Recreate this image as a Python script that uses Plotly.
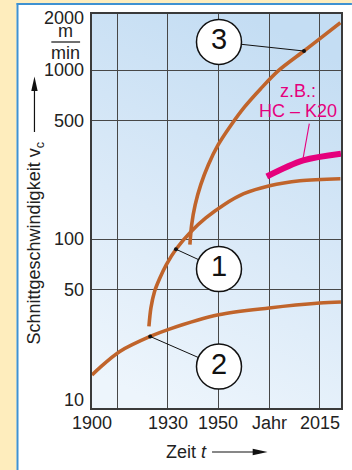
import base64
import numpy as np
import plotly.graph_objects as go

# ---------------- data ----------------
# curve 1 (rising from ~1922, flattening)
c1_year = [1922.5, 1923.3, 1924.7, 1926.7, 1929.4, 1933.2, 1939.1, 1945.0, 1952.2, 1960.0, 1970.2, 1982.2, 1998.2]
c1_v    = [30.4,   39.2,   48.8,   58.2,   70.5,   87.0,   110.5,  133.2,  159.6,  185.4,  206.8,  221.3,  227.4]
# curve 3 (steep rise from ~1939)
c3_year = [1938.7, 1939.4, 1940.8, 1943.0, 1946.0, 1949.9, 1954.8, 1960.4, 1966.7, 1973.7, 1983.8, 1990.1, 1998.2]
c3_v    = [92.5,   121.5,  159.6,  209.6,  275.2,  361.4,  468.1,  606.6,  775.1,  990.6,  1295,   1532,   1905]
# curve 2 (lowest)
c2_year = [1900, 1903, 1911, 1923, 1930.6, 1950, 1970, 1990, 1998.4]
c2_v    = [15.7, 17.3, 21.6, 26.5, 29.3,   35.6, 39.1, 41.8, 42.4]
# example HC - K20
hc_year = [1969.1, 1983.5, 1998.4]
hc_v    = [234.5,  292,    320]

x_tick_pos  = [1900, 1930, 1950, 1970, 1990]
x_tick_text = ["1900", "1930", "1950", "Jahr", "2015"]
x_grid      = [1910, 1930, 1950, 1970, 1990]
y_tick_vals = [2000, 1000, 500, 100, 50, 10]
y_grid      = [50, 100, 500, 1000]

# ---------------- geometry helpers (layout only) ----------------
W, H = 352, 470
ML, MR, MT, MB = 92, 9, 14, 62
PW, PH = W - ML - MR, H - MT - MB
X0, X1 = 1900, 1900 + PW / 2.55
LY0, LY1 = 1.0, 1.0 + PH / 169.0

def px(xp):
    return (xp - ML) / PW

def py(yp):
    return (H - MB - yp) / PH

FONT = "Liberation Sans, Arial, sans-serif"
BROWN = "#c0642b"
MAGENTA = "#e5007d"
TXT = "#222222"
GRID = "#474747"

fig = go.Figure()

line_kw = dict(shape="spline", smoothing=0.9)
for xs, ys in [(c2_year, c2_v), (c1_year, c1_v), (c3_year, c3_v)]:
    fig.add_trace(go.Scatter(x=xs, y=ys, mode="lines",
                             line=dict(color=BROWN, width=3.6, **line_kw), hoverinfo="skip"))
fig.add_trace(go.Scatter(x=hc_year, y=hc_v, mode="lines",
                         line=dict(color=MAGENTA, width=6, **line_kw), hoverinfo="skip"))

# leader lines (dot on curve -> label circle)
leaders = [((c2_year[3], c2_v[3]), (1950.2, 17.6)),
           ((c1_year[5], c1_v[5]), (1950.2, 66.4)),
           ((c3_year[10], c3_v[10]), (1950.2, 1466))]
for (xa, ya), (xb, yb) in leaders:
    fig.add_trace(go.Scatter(x=[xa, xb], y=[ya, yb], mode="lines",
                             line=dict(color="#111111", width=1), hoverinfo="skip"))
fig.add_trace(go.Scatter(x=[l[0][0] for l in leaders], y=[l[0][1] for l in leaders],
                         mode="markers", marker=dict(size=4, color="#111111"), hoverinfo="skip"))
# magenta leader
fig.add_trace(go.Scatter(x=[1985.9, 1983.3], y=[481, 292], mode="lines",
                         line=dict(color=MAGENTA, width=1.1), hoverinfo="skip"))

# numbered circles
fig.add_trace(go.Scatter(x=[1950.2, 1950.2, 1950.2], y=[1466, 66.4, 17.6],
                         mode="markers+text", text=["3", "1", "2"],
                         textposition="middle center",
                         textfont=dict(family=FONT, size=29, color="#111111"),
                         marker=dict(size=45, color="white", line=dict(color="#111111", width=1.5)),
                         hoverinfo="skip"))

ann = []
# y tick labels
for v in y_tick_vals:
    ys = 0
    if v == 10:
        ys = 8
    elif v == 2000:
        ys = 1
    ann.append(dict(xref="paper", yref="paper", x=0, y=(np.log10(v) - LY0) / (LY1 - LY0),
                    xanchor="right", yanchor="middle", xshift=-6, yshift=ys, showarrow=False,
                    text=str(v), font=dict(family=FONT, size=18, color=TXT)))
# x tick labels
for xv, t in zip(x_tick_pos, x_tick_text):
    ann.append(dict(xref="x", yref="paper", x=xv, y=py(422.5), xanchor="center",
                    yanchor="middle", showarrow=False, text=t,
                    font=dict(family=FONT, size=18, color=TXT)))
# unit m/min
ann.append(dict(xref="paper", yref="paper", x=px(65.5), y=py(31), showarrow=False, text="m",
                xanchor="center", yanchor="middle",
                font=dict(family=FONT, size=18, color=TXT)))
ann.append(dict(xref="paper", yref="paper", x=px(65.5), y=py(53), showarrow=False, text="min",
                xanchor="center", yanchor="middle",
                font=dict(family=FONT, size=18, color=TXT)))
# y title
ann.append(dict(xref="paper", yref="paper", x=px(35), y=py(243), showarrow=False,
                text="Schnittgeschwindigkeit v<sub>c</sub>", textangle=-90,
                xanchor="center", yanchor="middle", font=dict(family=FONT, size=18, color=TXT)))
# x title
ann.append(dict(xref="paper", yref="paper", x=px(187), y=py(452), showarrow=False,
                text="Zeit <i>t</i>", xanchor="center", yanchor="middle",
                font=dict(family=FONT, size=18, color=TXT)))
# HC - K20 label
ann.append(dict(xref="paper", yref="paper", x=px(300), y=py(91), showarrow=False, text="z.B.:",
                xanchor="center", yanchor="middle", font=dict(family=FONT, size=18, color=MAGENTA)))
ann.append(dict(xref="paper", yref="paper", x=px(300), y=py(111), showarrow=False, text="HC – K20",
                xanchor="center", yanchor="middle", font=dict(family=FONT, size=18, color=MAGENTA)))


def tri(points):
    return "M " + " L ".join(f"{px(a):.5f},{py(b):.5f}" for a, b in points) + " Z"

shapes = [
    # fraction bar
    dict(type="line", xref="paper", yref="paper", x0=px(51), x1=px(80), y0=py(42), y1=py(42),
         line=dict(color=TXT, width=1.3)),
    # y-title arrow
    dict(type="line", xref="paper", yref="paper", x0=px(34), x1=px(34), y0=py(132), y1=py(88),
         line=dict(color="#111111", width=1.2)),
    dict(type="path", xref="paper", yref="paper", path=tri([(34, 76.5), (30.8, 91), (37.2, 91)]),
         fillcolor="#111111", line=dict(width=0)),
    # x-title arrow
    dict(type="line", xref="paper", yref="paper", x0=px(213), x1=px(256), y0=py(452), y1=py(452),
         line=dict(color="#111111", width=1.2)),
    dict(type="path", xref="paper", yref="paper", path=tri([(269, 452), (254, 448.8), (254, 455.2)]),
         fillcolor="#111111", line=dict(width=0)),
    # yellow frame strips
    dict(type="rect", xref="paper", yref="paper", x0=px(-2), x1=px(16), y0=py(-2), y1=py(H + 2),
         line=dict(width=0), fillcolor="#feedbd", layer="below"),
    dict(type="rect", xref="paper", yref="paper", x0=px(-2), x1=px(W + 2), y0=py(-2), y1=py(3),
         line=dict(width=0), fillcolor="#feedbd", layer="below"),
    # blue panel border
    dict(type="line", xref="paper", yref="paper", x0=px(16.9), x1=px(16.9), y0=py(3), y1=py(H + 2),
         line=dict(color="#3f91d1", width=2)),
    dict(type="line", xref="paper", yref="paper", x0=px(16), x1=px(W + 2), y0=py(4), y1=py(4),
         line=dict(color="#3f91d1", width=2)),
]

svg = ('<svg xmlns="http://www.w3.org/2000/svg" width="100" height="100" preserveAspectRatio="none">'
       '<defs><linearGradient id="g" x1="0.6" y1="0" x2="0.3" y2="1">'
       '<stop offset="0" stop-color="#c4ddf3"/><stop offset="0.55" stop-color="#dbeaf8"/>'
       '<stop offset="1" stop-color="#edf5fc"/></linearGradient></defs>'
       '<rect width="100" height="100" fill="url(#g)"/></svg>')
src = "data:image/svg+xml;base64," + base64.b64encode(svg.encode()).decode()

fig.update_layout(
    width=W, height=H,
    margin=dict(l=ML, r=MR, t=MT, b=MB, pad=0),
    paper_bgcolor="white",
    plot_bgcolor="rgba(0,0,0,0)",
    showlegend=False,
    annotations=ann,
    shapes=shapes,
    images=[dict(source=src, xref="paper", yref="paper", x=0, y=1, sizex=1, sizey=1,
                 xanchor="left", yanchor="top", sizing="stretch", layer="below")],
    xaxis=dict(range=[X0, X1], tickvals=x_grid, showticklabels=False, ticks="",
               showgrid=True, gridcolor=GRID, gridwidth=1, zeroline=False,
               showline=True, linecolor="#3a3a3a", linewidth=2, mirror=True, fixedrange=True),
    yaxis=dict(type="log", range=[LY0, LY1], tickvals=y_grid, showticklabels=False, ticks="",
               showgrid=True, gridcolor=GRID, gridwidth=1, zeroline=False,
               showline=True, linecolor="#3a3a3a", linewidth=2, mirror=True, fixedrange=True),
)

fig.write_html("out.html", config={"displayModeBar": False})
